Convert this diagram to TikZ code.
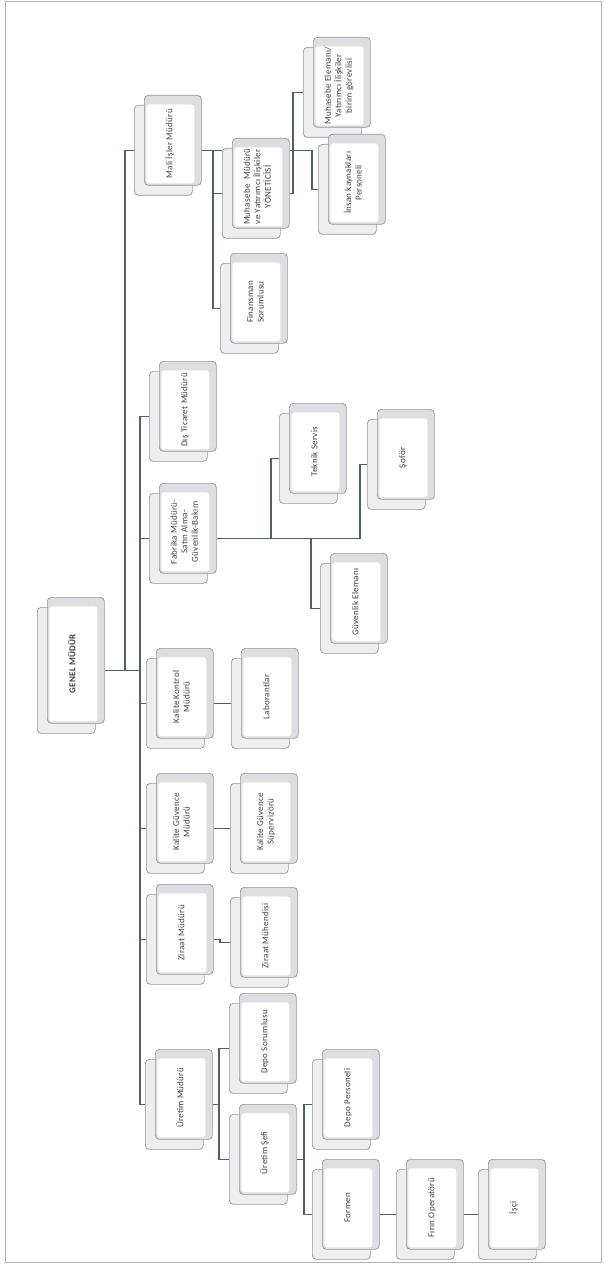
\documentclass[tikz,border=0pt]{standalone}
\usepackage{fontspec}
\setmainfont{Carlito}
\newfontfamily\boxfont[LetterSpace=3]{Carlito}
\usepackage{graphicx}
\definecolor{linec}{RGB}{78,100,90}
\definecolor{bordc}{RGB}{150,150,150}
\definecolor{bandc}{RGB}{222,222,226}
\definecolor{backc}{RGB}{238,238,241}
\definecolor{txtc}{RGB}{65,65,65}
\definecolor{framec}{RGB}{175,175,175}
\tikzset{
  backbox/.style={draw=bordc, fill=backc, rounded corners=4pt, minimum width=58pt, minimum height=90pt, inner sep=0pt, line width=0.7pt, anchor=north west},
  frontbox/.style={draw=bordc, fill=bandc, rounded corners=4pt, minimum width=57pt, minimum height=90pt, inner sep=0pt, line width=0.7pt, anchor=north west,
    path picture={\fill[white, rounded corners=3pt] ([xshift=2pt,yshift=2pt]path picture bounding box.south west) rectangle ([xshift=-7pt,yshift=-9pt]path picture bounding box.north east);}},
  boxtext/.style={text=txtc, font=\boxfont\fontsize{9}{10.5}\selectfont, inner sep=0pt},
  conn/.style={draw=linec, line width=1.6pt},
}
\newcommand\orgunit[5][]{%
  \node[backbox,#1] (#2-b) at ({#3-10},{#4+10}) {};
  \node[frontbox,#1] (#2) at (#3,#4) {};
  \node[boxtext] (#2-t) at ([xshift=-2.5pt,yshift=-3.5pt]#2.center) {\rotatebox{90}{\begin{tabular}{@{}c@{}}#5\end{tabular}}};
}
\begin{document}
\begin{tikzpicture}[x=1pt,y=-1pt]
\useasboundingbox (0,0) rectangle (604,1265);
\draw[framec, line width=0.6pt] (5,1) rectangle (601,1262);

% units
\orgunit{mali}{144}{95}{Mali İşler Müdürü}
\orgunit{muh}{232}{138}{Muhasebe\ \ Müdürü\\ve Yatırımcı İlişkiler\\YÖNETİCİSİ}
\orgunit{muhel}{313}{37}{Muhasebe Elemanı/\\Yatırımcı İlişkiler\\birim görevlisi}
\orgunit{ik}{328}{134}{İnsan kaynakları\\Personeli}
\orgunit{fin}{230}{253}{Finansman\\Sorumlusu}
\orgunit{dis}{159}{361}{Dış Ticaret Müdürü}
\orgunit{fab}{159}{483}{Fabrika Müdürü-\\Satın Alma-\\Güvenlik-Bakım}
\orgunit{tek}{289}{403}{Teknik Servis}
\orgunit{sof}{377}{409}{Şoför}
\orgunit{guv}{330}{553}{Güvenlik Elemanı}
\orgunit[minimum height=126pt]{genel}{47}{597}{\bfseries GENEL MÜDÜR}
\orgunit{kk}{156}{648}{Kalite Kontrol\\Müdürü}
\orgunit{lab}{241}{648}{Laborantlar}
\orgunit{kg}{156}{773}{Kalite Güvence\\Müdürü}
\orgunit{kgs}{240}{773}{Kalite Güvence\\Süpervizörü}
\orgunit{zir}{156}{884}{Ziraat Müdürü}
\orgunit{zirm}{240}{887}{Ziraat Mühendisi}
\orgunit{depos}{239}{993}{Depo Sorumlusu}
\orgunit{uret}{155}{1049}{Üretim Müdürü}
\orgunit{sef}{239}{1104}{Üretim Şefi}
\orgunit{depop}{322}{1049}{Depo Personeli}
\orgunit{formen}{322}{1159}{Formen}
\orgunit{firin}{406}{1159}{Fırın Operatörü}
\orgunit{isci}{488}{1159}{İşçi}

% junction columns
\coordinate (ax) at (125,0);
\coordinate (sx) at (140,0);
\coordinate (mx) at (213,0);
\coordinate (hx) at (293,0);
\coordinate (hx2) at (312,0);
\coordinate (fx1) at (271,0);
\coordinate (fx2) at (311,0);
\coordinate (fx3) at (360,0);
\coordinate (zx) at (220,0);
\coordinate (ux) at (219,0);
\coordinate (ex) at (304,0);

% top level
\draw[conn] (genel.east |- genel-b.center) -- (sx |- genel-b.center);
\draw[conn] (mali-b.west) -- (ax |- mali-b.west) -- (ax |- genel-b.center);
\draw[conn] (dis-b.west) -- (sx |- dis-b.west) -- (sx |- uret-b.west) -- (uret-b.west);
\draw[conn] (fab-b.west) -- (sx |- fab-b.west);
\draw[conn] (kk-b.west) -- (sx |- kk-b.west);
\draw[conn] (kg-b.west) -- (sx |- kg-b.west);
\draw[conn] (zir-b.west) -- (sx |- zir-b.west);

% Mali isler
\draw[conn] (mali.east |- mali-b.center) -- (muh-b.west |- mali-b.center);
\draw[conn] (mx |- mali-b.center) -- (mx |- fin-b.west) -- (fin-b.west);
\draw[conn] (mx |- muh-b.west) -- (muh-b.west);
% Muhasebe
\draw[conn] (muh.east |- muh-b.center) -- (hx |- muh-b.center) -- (hx |- muhel-b.west) -- (muhel-b.west);
\draw[conn] (muh.east |- mali-b.center) -- (hx2 |- mali-b.center) -- (hx2 |- ik-b.west) -- (ik-b.west);

% Fabrika
\draw[conn] (fab.east |- fab-b.center) -- (fx3 |- fab-b.center) -- (fx3 |- sof-b.west) -- (sof-b.west);
\draw[conn] (fx1 |- fab-b.center) -- (fx1 |- tek-b.west) -- (tek-b.west);
\draw[conn] (fx2 |- fab-b.center) -- (fx2 |- guv-b.west) -- (guv-b.west);

% Kalite
\draw[conn] (kk.east |- kk-b.center) -- (lab-b.west);
\draw[conn] (kg.east |- kg-b.center) -- (kgs-b.west);
% Ziraat
\draw[conn] (zir.east |- zir-b.center) -- (zx |- zir-b.center) -- (zx |- zirm-b.west) -- (zirm-b.west);
% Uretim
\draw[conn] (uret.east |- uret-b.center) -- (ux |- uret-b.center);
\draw[conn] (depos-b.west) -- (ux |- depos-b.west) -- (ux |- sef-b.west) -- (sef-b.west);
\draw[conn] (sef.east |- sef-b.center) -- (ex |- sef-b.center);
\draw[conn] (depop-b.west) -- (ex |- depop-b.west) -- (ex |- formen-b.west) -- (formen-b.west);
\draw[conn] (formen.east |- formen-b.center) -- (firin-b.west);
\draw[conn] (firin.east |- firin-b.center) -- (isci-b.west);
\end{tikzpicture}
\end{document}
